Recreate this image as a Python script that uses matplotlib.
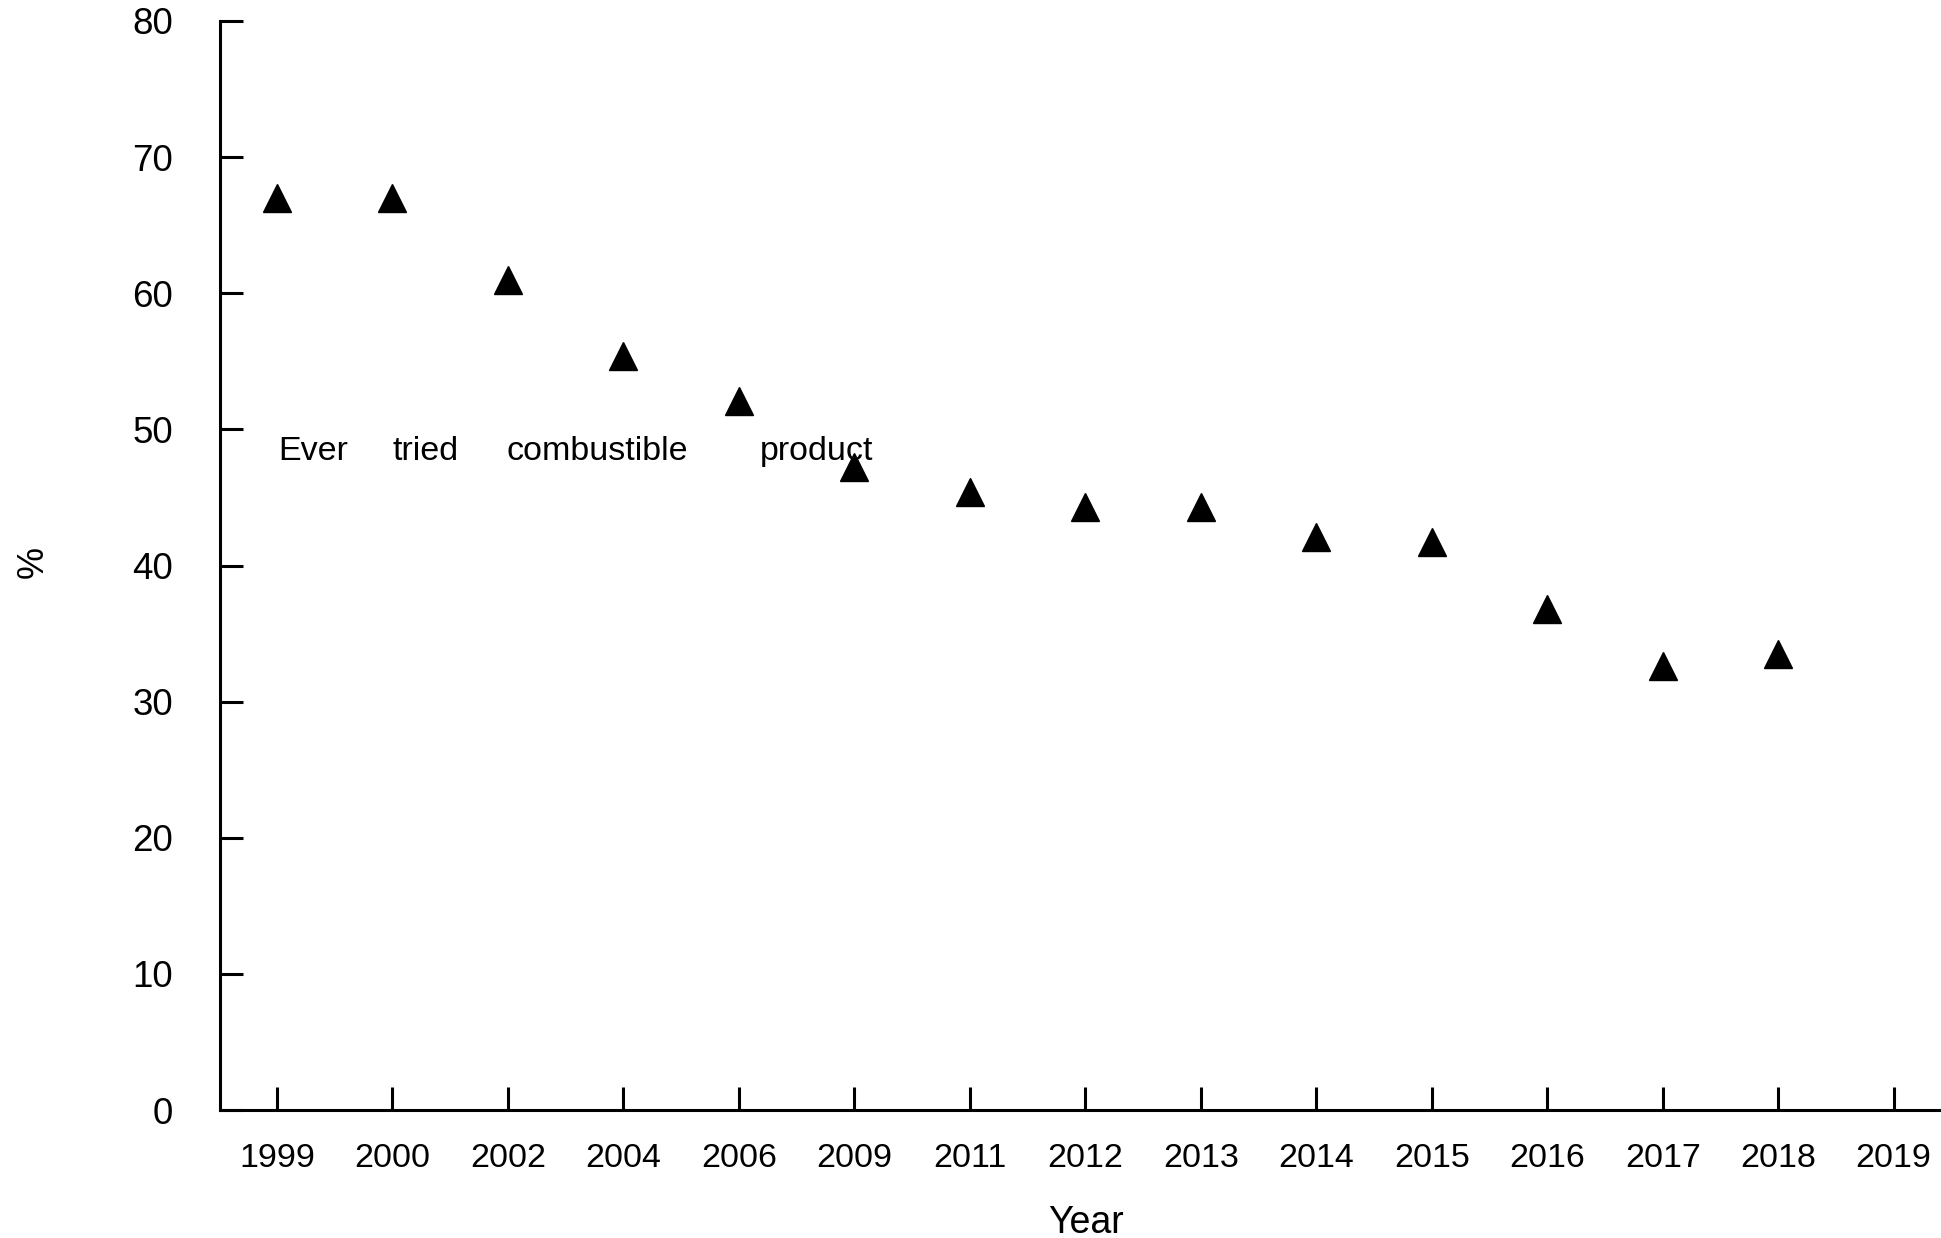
import matplotlib
matplotlib.use('Agg')
import matplotlib.pyplot as plt

years = ['1999', '2000', '2002', '2004', '2006', '2009', '2011', '2012',
         '2013', '2014', '2015', '2016', '2017', '2018', '2019']
ever_tried = [67.0, 67.0, 61.0, 55.4, 52.1, 47.2, 45.4, 44.3,
              44.3, 42.1, 41.7, 36.8, 32.6, 33.5]
series_label = 'Ever tried combustible product'

plt.rcParams['font.family'] = ['Liberation Sans', 'DejaVu Sans']

W, H = 1941, 1238
fig = plt.figure(figsize=(W / 100, H / 100), dpi=100)
# axes box in pixel terms: spine x=220, y from 21 (top) to 1110 (bottom)
ax = fig.add_axes([220 / W, 1 - 1110 / H, (W - 220) / W, (1110 - 21) / H])

x = list(range(len(years)))
ax.plot(x[:len(ever_tried)], ever_tried, linestyle='none', marker='^',
        markersize=20, color='black', markeredgewidth=1)

# the label in the original is spread out word by word
word_x = [0.009, 0.996, 1.991, 4.182]
for wx, word in zip(word_x, series_label.split()):
    ax.text(wx, 47.76, word, fontsize=24.5, va='baseline', ha='left')

ax.set_xlim(-0.4935, 14.41)
ax.set_ylim(0, 80)
ax.set_xticks(x)
ax.set_xticklabels(years)
ax.set_yticks(range(0, 81, 10))

for side in ['top', 'right']:
    ax.spines[side].set_visible(False)
for side in ['left', 'bottom']:
    ax.spines[side].set_linewidth(2.2)

ax.tick_params(axis='y', direction='in', length=16.5, width=2.2,
               labelsize=26.5, pad=34)
ax.tick_params(axis='x', direction='in', length=16.5, width=2.2,
               labelsize=24.5, pad=24)

ax.set_ylabel('%', fontsize=26, va='center')
ax.yaxis.set_label_coords((33 - 220) / 1721, (1110 - 562) / 1089)
ax.set_xlabel('Year', fontsize=27, va='baseline')
ax.xaxis.set_label_coords((1086 - 220) / 1721, (1110 - 1233) / 1089)

fig.savefig('out.png', dpi=100)
